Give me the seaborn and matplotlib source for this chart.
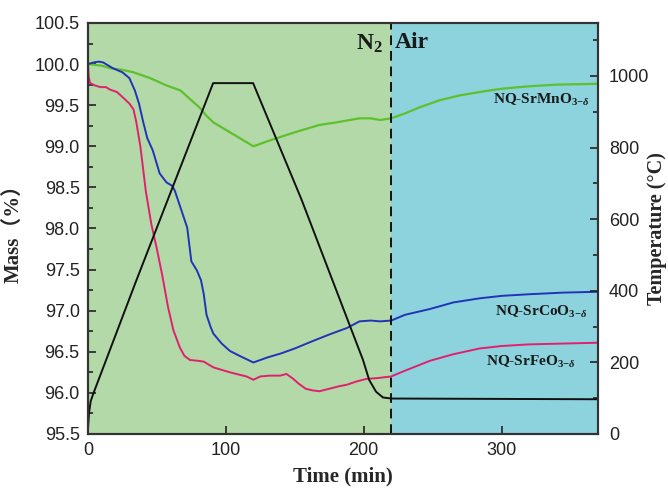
import matplotlib
matplotlib.use("Agg")
import matplotlib.pyplot as plt
from matplotlib.ticker import MultipleLocator, FormatStrFormatter
import seaborn as sns
import pandas as pd

# --- TGA data: mass (%) vs time (min) ---
t_mn = [0, 5, 10, 16, 25, 33, 45, 57, 67, 75, 81, 86, 91, 100, 110, 120, 130,
        139, 150, 160, 168, 180, 190, 197, 205, 212, 220, 230, 240, 255, 270,
        284, 300, 320, 340, 370]
m_mn = [100.0, 99.99, 99.98, 99.95, 99.93, 99.9, 99.83, 99.74, 99.68, 99.56,
        99.47, 99.37, 99.29, 99.2, 99.1, 99.0, 99.06, 99.11, 99.17, 99.22,
        99.26, 99.29, 99.32, 99.34, 99.34, 99.32, 99.34, 99.4, 99.47, 99.56,
        99.62, 99.66, 99.7, 99.73, 99.75, 99.76]

t_co = [0, 4, 8, 11, 14, 18, 25, 30, 34, 37, 40, 43, 47, 52, 57, 61, 63, 67,
        72, 75, 79, 82, 84, 86, 89, 91, 97, 103, 110, 120, 130, 140, 150, 163,
        175, 188, 197, 205, 212, 220, 230, 248, 265, 284, 300, 320, 345, 370]
m_co = [100.0, 100.02, 100.03, 100.02, 99.99, 99.95, 99.9, 99.83, 99.68,
        99.52, 99.3, 99.1, 98.95, 98.67, 98.56, 98.52, 98.46, 98.26, 98.01,
        97.6, 97.49, 97.37, 97.2, 96.95, 96.8, 96.72, 96.6, 96.51, 96.45,
        96.37, 96.43, 96.48, 96.54, 96.63, 96.71, 96.79, 96.87, 96.88, 96.87,
        96.88, 96.95, 97.02, 97.1, 97.15, 97.18, 97.2, 97.22, 97.23]

t_fe = [0, 0.5, 1.5, 5, 9, 13, 16, 21, 25, 30, 33, 35, 38, 42, 46, 50, 54, 58,
        62, 66.7, 70, 74, 80, 84, 88, 91, 97, 103, 110, 115, 120, 125, 132,
        139.5, 144, 149, 153, 158, 163, 168, 175, 182, 188, 195, 202, 210, 220,
        230, 248, 265, 284, 300, 320, 345, 370]
m_fe = [100.0, 99.85, 99.77, 99.74, 99.72, 99.72, 99.69, 99.66, 99.6, 99.52,
        99.45, 99.3, 99.0, 98.45, 98.05, 97.75, 97.42, 97.05, 96.76, 96.55,
        96.45, 96.4, 96.39, 96.38, 96.34, 96.31, 96.28, 96.25, 96.22, 96.2,
        96.16, 96.2, 96.21, 96.21, 96.23, 96.17, 96.11, 96.05, 96.03, 96.02,
        96.05, 96.08, 96.1, 96.14, 96.17, 96.18, 96.2, 96.27, 96.39, 96.47,
        96.54, 96.57, 96.59, 96.6, 96.61]

# --- temperature programme ---
t_temp = [0, 0.8, 2, 3.8, 35, 90.8, 119.8, 155, 199.5, 204, 209, 214, 220, 370]
temp = [15, 60, 92, 112, 428, 980, 980, 654, 207, 151, 118, 102, 99, 97]

switch_time = 220
x_ticks = [0, 100, 200, 300]

green_bg = "#b4d9a8"
cyan_bg = "#8dd3de"

sns.set_style("ticks")
plt.rcParams["font.family"] = ["Liberation Sans", "DejaVu Sans"]
plt.rcParams["mathtext.fontset"] = "custom"
plt.rcParams["mathtext.rm"] = "Liberation Serif:bold"
plt.rcParams["mathtext.it"] = "Liberation Serif:italic:bold"
plt.rcParams["mathtext.bf"] = "Liberation Serif:bold"

fig = plt.figure(figsize=(6.68, 4.88), dpi=100)
ax = fig.add_axes([0.1317, 0.1107, 0.7635, 0.8422])
ax2 = ax.twinx()

ax.axvspan(0, switch_time, color=green_bg, lw=0, zorder=0)
ax.axvspan(switch_time, 370, color=cyan_bg, lw=0, zorder=0)

df_mn = pd.DataFrame({"t": t_mn, "m": m_mn})
df_co = pd.DataFrame({"t": t_co, "m": m_co})
df_fe = pd.DataFrame({"t": t_fe, "m": m_fe})
df_T = pd.DataFrame({"t": t_temp, "T": temp})

sns.lineplot(data=df_mn, x="t", y="m", ax=ax, color="#5cc12c", lw=1.6, zorder=3)
sns.lineplot(data=df_co, x="t", y="m", ax=ax, color="#2233b8", lw=1.4, zorder=3)
sns.lineplot(data=df_fe, x="t", y="m", ax=ax, color="#e0206e", lw=1.4, zorder=3)
sns.lineplot(data=df_T, x="t", y="T", ax=ax2, color="#111111", lw=1.4)

ax.axvline(switch_time, color="#111111", ls=(0, (5, 3)), lw=1.4, zorder=4)

ax.set_xlim(0, 370)
ax.set_ylim(95.5, 100.5)
ax2.set_ylim(0, 1148)

ax.set_xticks(x_ticks)
ax.yaxis.set_major_locator(MultipleLocator(0.5))
ax.yaxis.set_minor_locator(MultipleLocator(0.25))
ax.yaxis.set_major_formatter(FormatStrFormatter("%.1f"))
ax2.yaxis.set_major_locator(MultipleLocator(200))
ax2.yaxis.set_minor_locator(MultipleLocator(100))

for a in (ax, ax2):
    a.tick_params(which="both", direction="in", labelsize=13, colors="#222222",
                  width=1.2)
    a.tick_params(which="major", length=6)
    a.tick_params(which="minor", length=3.5)
    for s in a.spines.values():
        s.set_color("#333333")
        s.set_linewidth(1.5)
ax.tick_params(axis="x", pad=6)
ax.tick_params(axis="y", pad=6)
ax2.tick_params(axis="y", pad=8)

serif = ["Liberation Serif", "Noto Sans CJK SC"]
label_font = dict(family=serif, fontweight="bold", fontsize=15)
ax.set_xlabel("Time (min)", labelpad=5, **label_font)
ax.set_ylabel("Mass（%）", labelpad=8, **label_font)
ax2.set_ylabel("Temperature (°C)", family="Liberation Serif",
               fontweight="bold", fontsize=14.5)
ax2.yaxis.set_label_coords(1.097, 0.5)

txt = dict(fontsize=11, color="#1a1a1a", va="center", zorder=5,
           family="Liberation Serif", fontweight="bold")
ax.text(364, 99.56, r"NQ-SrMnO$_{3\mathrm{-}\delta}$", ha="right", **txt)
ax.text(362, 96.99, r"NQ-SrCoO$_{3\mathrm{-}\delta}$", ha="right", **txt)
ax.text(354, 96.38, r"NQ-SrFeO$_{3\mathrm{-}\delta}$", ha="right", **txt)

big = dict(fontsize=17, family="Liberation Serif", fontweight="bold",
           color="#1a1a1a", va="center", zorder=5)
ax.text(214, 100.25, r"N$_2$", ha="right", **big)
ax.text(222.5, 100.26, "Air", ha="left", **big)

fig.savefig("out.png", dpi=100)
